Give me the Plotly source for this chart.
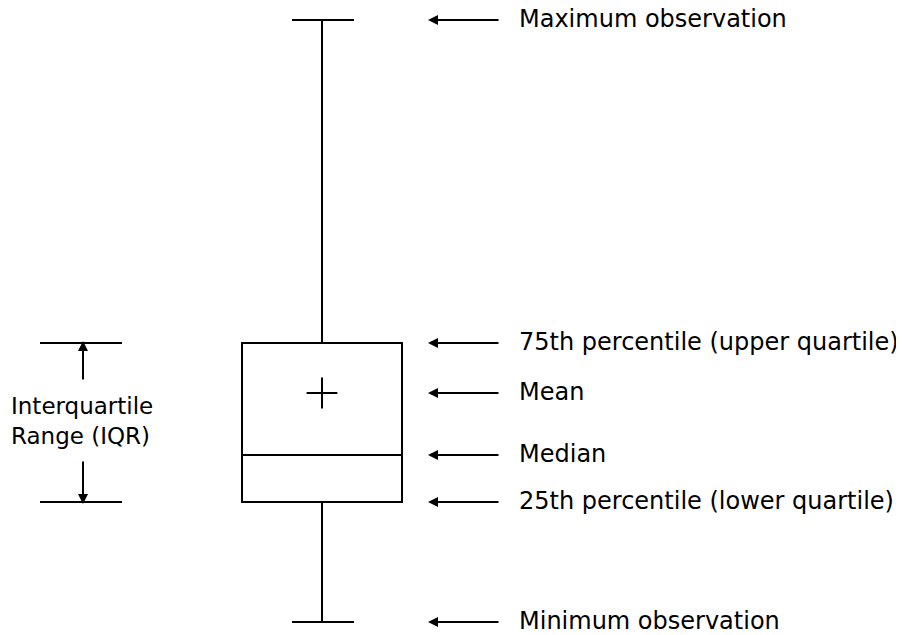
import plotly.graph_objects as go

# statistics (value units)
labels = ["Maximum observation", "75th percentile (upper quartile)", "Mean", "Median", "25th percentile (lower quartile)", "Minimum observation"]
stat_min, stat_q1, stat_median, stat_mean, stat_q3, stat_max = 0, 120, 167, 229, 279, 602
values = [stat_max, stat_q3, stat_mean, stat_median, stat_q1, stat_min]

fig = go.Figure()
C = 322
L = dict(color="black", width=2)
shapes = [
    dict(type="rect", x0=242, x1=402, y0=stat_q1, y1=stat_q3, line=L),
    dict(type="line", x0=242, x1=402, y0=stat_median, y1=stat_median, line=L),
    dict(type="line", x0=C, x1=C, y0=stat_q3, y1=stat_max, line=L),
    dict(type="line", x0=C, x1=C, y0=stat_min, y1=stat_q1, line=L),
    dict(type="line", x0=292, x1=354, y0=stat_max, y1=stat_max, line=L),
    dict(type="line", x0=292, x1=354, y0=stat_min, y1=stat_min, line=L),
    dict(type="line", x0=40, x1=122, y0=stat_q3, y1=stat_q3, line=L),
    dict(type="line", x0=40, x1=122, y0=stat_q1, y1=stat_q1, line=L),
]
fig.add_trace(go.Scatter(x=[C], y=[stat_mean], mode="markers",
                         marker=dict(symbol="cross-thin", size=22, line=dict(color="black", width=2)),
                         hoverinfo="skip"))
ann = []
for lab, v in zip(labels, values):
    ann.append(dict(x=428, y=v, ax=500, ay=v, xref="x", yref="y", axref="x", ayref="y",
                    text="", showarrow=True, arrowhead=2, arrowsize=1, arrowwidth=2, arrowcolor="black"))
    ann.append(dict(x=517, y=v + 1, xref="x", yref="y", text=lab, showarrow=False, xanchor="left",
                    font=dict(family="DejaVu Sans", size=24, color="black")))
ann.append(dict(x=83, y=stat_q3 + 2, ax=83, ay=stat_q3 - 38, xref="x", yref="y", axref="x", ayref="y",
                text="", showarrow=True, arrowhead=2, arrowwidth=2, arrowcolor="black"))
ann.append(dict(x=83, y=stat_q1 - 2, ax=83, ay=stat_q1 + 42, xref="x", yref="y", axref="x", ayref="y",
                text="", showarrow=True, arrowhead=2, arrowwidth=2, arrowcolor="black"))
ann.append(dict(x=9, y=(stat_q1 + stat_q3) / 2 + 2, xref="x", yref="y", text="Interquartile<br>Range (IQR)",
                showarrow=False, xanchor="left", align="left",
                font=dict(family="DejaVu Sans", size=23, color="black")))
fig.update_layout(width=904, height=635, margin=dict(l=0, r=0, t=0, b=0),
                  paper_bgcolor="white", plot_bgcolor="white", showlegend=False,
                  shapes=shapes, annotations=ann,
                  xaxis=dict(range=[8, 912], visible=False),
                  yaxis=dict(range=[-21, 614], visible=False))
fig.write_html("out.html")
